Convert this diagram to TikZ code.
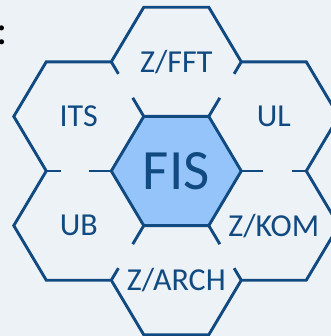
\documentclass[tikz,border=0pt]{standalone}
\usepackage{fontspec}
\setmainfont{Carlito}
\usetikzlibrary{calc}

\definecolor{hexblue}{RGB}{17,74,128}
\definecolor{fisblue}{RGB}{148,196,250}
\definecolor{bgblue}{RGB}{237,242,247}

\tikzset{
  hexline/.style={draw=hexblue,line width=2.9pt},
  hexlabel/.style={text=hexblue,font=\fontsize{32}{32}\selectfont,inner sep=0pt},
}

\begin{document}
\begin{tikzpicture}[x=65pt,y=54.6pt]
	\useasboundingbox[fill=bgblue] (-2.712,-3.022) rectangle (2.380,3.132);
	% corners of the middle cell
	\coordinate (c1) at (1,0);
	\coordinate (c2) at (0.5,1);
	\coordinate (c3) at (-0.5,1);
	\coordinate (c4) at (-1,0);
	\coordinate (c5) at (-0.5,-1);
	\coordinate (c6) at (0.5,-1);
	% where two outer cells meet on the rim
	\coordinate (j1) at (2,0);
	\coordinate (j2) at (1,2);
	\coordinate (j3) at (-1,2);
	\coordinate (j4) at (-2,0);
	\coordinate (j5) at (-1,-2);
	\coordinate (j6) at (1,-2);

	% outer rim
	\draw[hexline] (j3) -- (-0.5,3) -- (0.5,3) -- (j2) -- (2,2) -- (2.5,1) -- (j1)
		-- (2.5,-1) -- (2,-2) -- (j6) -- (0.5,-3) -- (-0.5,-3) -- (j5)
		-- (-2,-2) -- (-2.5,-1) -- (j4) -- (-2.5,1) -- (-2,2) -- cycle;
	% middle cell
	\draw[hexline,fill=fisblue] (c1) -- (c2) -- (c3) -- (c4) -- (c5) -- (c6) -- cycle;
	% broken walls between the outer cells
	\foreach \i in {1,...,6} {
		\draw[hexline] (c\i) -- ($(c\i)!0.34!(j\i)$);
		\draw[hexline] (j\i) -- ($(j\i)!0.22!(c\i)$);
	}

	\node[hexlabel,font=\fontsize{57}{57}\selectfont] (fis) at (0,0) {FIS};
	\node[hexlabel] (fft) at (0,2) {Z/FFT};
	\node[hexlabel] (ul) at (1.5,1) {UL};
	\node[hexlabel] (kom) at (1.5,-1) {Z/KOM};
	\node[hexlabel] (arch) at (0,-2) {Z/ARCH};
	\node[hexlabel] (ub) at (-1.5,-1) {UB};
	\node[hexlabel] (its) at (-1.5,1) {ITS};

	\node[anchor=base,inner sep=0pt,font=\fontsize{42}{42}\selectfont] (colon) at (-2.674,2.317) {:};
\end{tikzpicture}
\end{document}
